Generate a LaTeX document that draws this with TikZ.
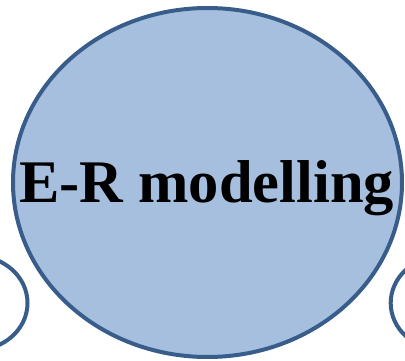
\documentclass[tikz,border=0pt]{standalone}
\usepackage{fontspec}
\setmainfont{Liberation Serif}
\definecolor{bubblefill}{RGB}{167,191,222}
\definecolor{bubbleline}{RGB}{56,93,138}
\begin{document}
\begin{tikzpicture}[x=1pt,y=-1pt,
  bubble/.style={draw=bubbleline,line width=4pt,fill=bubblefill},
  ring/.style={draw=bubbleline,line width=4pt}]
\useasboundingbox (0,0) rectangle (405,361);
\begin{scope}
\clip (0,0) rectangle (405,361);
% side bubbles, only partly in view
\draw[ring] (-24.5,303) ellipse [x radius=52,y radius=47];
\draw[ring] (442.7,303) ellipse [x radius=52,y radius=47];
% central bubble
\draw[bubble] (207.5,182.5) ellipse [x radius=194.5,y radius=174.5];
\end{scope}
\node[anchor=base,inner sep=0pt,font=\bfseries\fontsize{60.5}{66}\selectfont] (title) at (206.5,203) {E-R modelling};
\end{tikzpicture}
\end{document}
